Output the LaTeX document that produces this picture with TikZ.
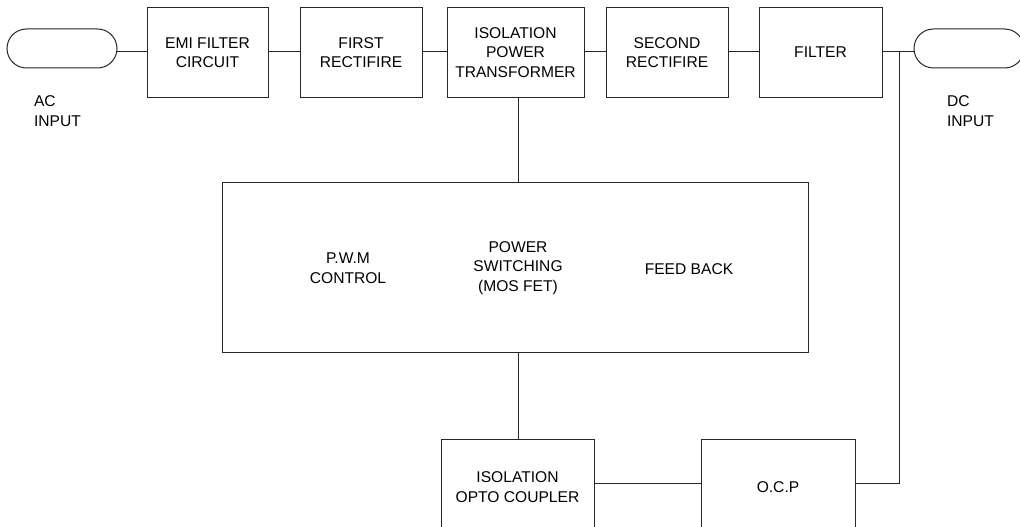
\documentclass[tikz,border=0pt]{standalone}
\usepackage{fontspec}
\setmainfont{Liberation Sans}
\begin{document}
\begin{tikzpicture}[x=1pt,y=-1pt,
  every node/.style={font=\fontsize{15.6}{19.5}\selectfont, text=black, align=center, inner sep=0pt, outer sep=0pt},
  blk/.style={draw=black!85, line width=1pt, rectangle},
  term/.style={draw=black!85, line width=1pt, rectangle, rounded corners=19.5pt},
  wire/.style={draw=black!85, line width=1pt}]
\useasboundingbox (0,0) rectangle (1020,527);
\clip (0,0) rectangle (1020,527);
% top row
\node[term, minimum width=110pt, minimum height=39pt] (ac) at (62,48.5) {};
\node[blk, minimum width=121pt, minimum height=89pt] (emi) at (207.5,52.5) {EMI FILTER\\CIRCUIT};
\node[blk, minimum width=122pt, minimum height=89pt] (r1) at (361,52.5) {FIRST\\RECTIFIRE};
\node[blk, minimum width=137pt, minimum height=89pt] (tr) at (515.5,52.5) {ISOLATION\\POWER\\TRANSFORMER};
\node[blk, minimum width=122pt, minimum height=89pt] (r2) at (667,52.5) {SECOND\\RECTIFIRE};
\node[blk, minimum width=123pt, minimum height=89pt] (flt) at (820.5,52.5) {FILTER};
\node[term, minimum width=110pt, minimum height=39pt] (dc) at (969,48.5) {};
\node[anchor=west, align=left] (actxt) at (34,111) {AC\\INPUT};
\node[anchor=west, align=left] (dctxt) at (947,111) {DC\\INPUT};
% big box
\node[blk, minimum width=586pt, minimum height=170pt] (main) at (515,267) {};
\node (pwm) at (348,268) {P.W.M\\CONTROL};
\node (psw) at (518,268) {POWER\\SWITCHING\\(MOS FET)};
\node (fb) at (689,269) {FEED BACK};
% bottom row
\node[blk, minimum width=153pt, minimum height=96pt] (opto) at (517.5,487) {ISOLATION\\OPTO COUPLER};
\node[blk, minimum width=154pt, minimum height=96pt] (ocp) at (778,487) {O.C.P};
\coordinate (j) at (899,52);
% wires
\draw[wire] (emi.west |- 0,52) -- (ac.east |- 0,52);
\draw[wire] (emi.east |- 0,52) -- (r1.west |- 0,52);
\draw[wire] (r1.east |- 0,52) -- (tr.west |- 0,52);
\draw[wire] (tr.east |- 0,52) -- (r2.west |- 0,52);
\draw[wire] (r2.east |- 0,52) -- (flt.west |- 0,52);
\draw[wire] (flt.east |- 0,52) -- (dc.west |- 0,52);
\draw[wire] (tr.south -| 518,0) -- (main.north -| 518,0);
\draw[wire] (main.south -| 518,0) -- (opto.north -| 518,0);
\draw[wire] (opto.east |- 0,483) -- (ocp.west |- 0,483);
\draw[wire] (ocp.east |- 0,483) -- (j |- 0,483) -- (j);
\end{tikzpicture}
\end{document}
